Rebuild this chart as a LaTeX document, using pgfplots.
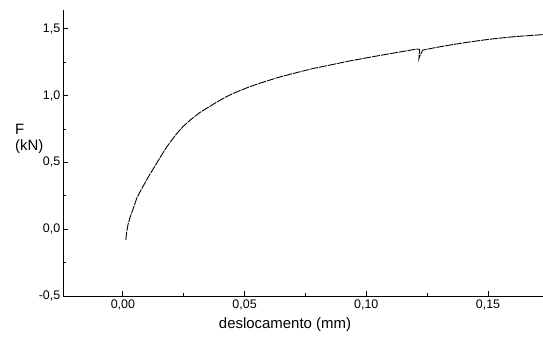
\documentclass[border=0pt]{standalone}
\usepackage{pgfplots}
\pgfplotsset{compat=1.18}
\usepackage{fontspec}
\setmainfont{Liberation Sans}
\begin{document}
\begin{tikzpicture}[x=1bp,y=1bp]
\path[use as bounding box] (0,0) rectangle (543,339);
\begin{axis}[
  at={(63bp,43bp)}, anchor=south west,
  scale only axis, width=480bp, height=286bp,
  xmin=-0.0246, xmax=0.1726, ymin=-0.5, ymax=1.64,
  axis x line=bottom, axis y line=left,
  axis line style={-, line width=1bp, black},
  tick align=inside,
  major tick length=5bp, minor tick length=3bp,
  every tick/.style={black, line width=0.8bp},
  xtick={0,0.05,0.1,0.15},
  xticklabels={{0,00},{0,05},{0,10},{0,15}},
  ytick={-0.5,0,0.5,1,1.5},
  yticklabels={{-0,5},{0,0},{0,5},{1,0},{1,5}},
  minor xtick={-0.025,0.025,0.075,0.125},
  minor ytick={-0.25,0.25,0.75,1.25},
  tick label style={font=\fontsize{12.5}{14}\selectfont},
  yticklabel style={inner xsep=2.5bp},
  clip=false,
]
\addplot[black, line width=0.9bp, dash pattern=on 8bp off 1bp] coordinates {
(0.0012,-0.079) (0.0016,-0.019) (0.0021,0.034) (0.0029,0.086) (0.0041,0.146)
(0.0058,0.236) (0.0082,0.318) (0.0103,0.386) (0.0123,0.446) (0.0148,0.521)
(0.0173,0.596) (0.0193,0.648) (0.0218,0.708) (0.0247,0.768) (0.0279,0.820)
(0.0316,0.873) (0.0349,0.910) (0.0386,0.951) (0.0419,0.985) (0.0452,1.015)
(0.0522,1.067) (0.0592,1.109) (0.0645,1.139) (0.0715,1.172) (0.0781,1.202)
(0.0851,1.228) (0.0921,1.255) (0.0986,1.277) (0.1056,1.300) (0.1138,1.326)
(0.1208,1.348) (0.1219,1.345) (0.1216,1.275) (0.1222,1.305) (0.1232,1.340)
(0.1282,1.358) (0.1344,1.378) (0.1414,1.398) (0.1480,1.415) (0.1550,1.430)
(0.1611,1.441) (0.1726,1.456)
};
\node[anchor=north west, align=left, inner sep=0pt, font=\fontsize{15}{15.5}\selectfont]
  at (rel axis cs:-0.1,0.601) {F\\(kN)};
\node[anchor=center, inner sep=0pt, font=\fontsize{15}{17}\selectfont]
  at (rel axis cs:0.4625,-0.1) {deslocamento (mm)};
\end{axis}
\end{tikzpicture}
\end{document}
